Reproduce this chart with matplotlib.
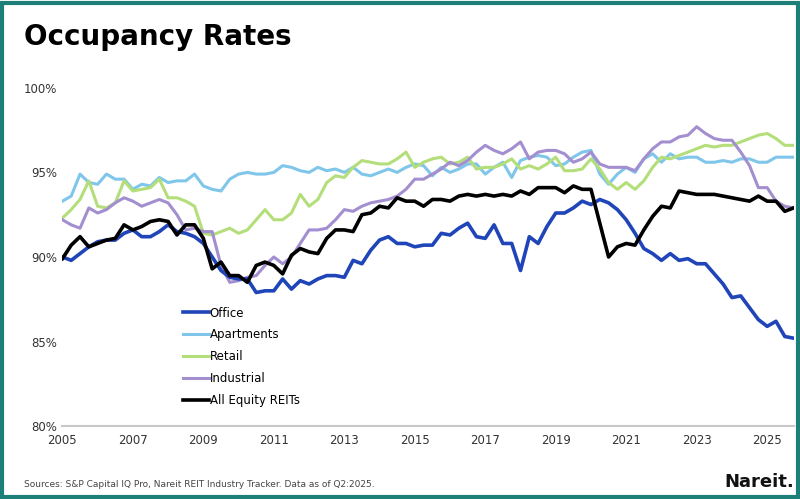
import numpy as np
import matplotlib
matplotlib.use("Agg")
import matplotlib.pyplot as plt
from matplotlib.patches import Rectangle

# quarterly, 2005Q1 onwards
office = [90.0, 89.8, 90.2, 90.6, 90.9, 91.0, 91.0, 91.4, 91.6, 91.2, 91.2, 91.5,
          91.9, 91.5, 91.4, 91.2, 90.8, 90.0, 89.2, 88.8, 88.7, 88.7, 87.9, 88.0,
          88.0, 88.7, 88.1, 88.6, 88.4, 88.7, 88.9, 88.9, 88.8, 89.8, 89.6, 90.4,
          91.0, 91.2, 90.8, 90.8, 90.6, 90.7, 90.7, 91.4, 91.3, 91.7, 92.0, 91.2,
          91.1, 91.9, 90.8, 90.8, 89.2, 91.2, 90.8, 91.8, 92.6, 92.6, 92.9, 93.3,
          93.1, 93.4, 93.2, 92.8, 92.2, 91.4, 90.5, 90.2, 89.8, 90.2, 89.8, 89.9,
          89.6, 89.6, 89.0, 88.4, 87.6, 87.7, 87.0, 86.3, 85.9, 86.2, 85.3, 85.2]
apartments = [93.3, 93.6, 94.9, 94.4, 94.3, 94.9, 94.6, 94.6, 94.0, 94.3, 94.2, 94.7,
              94.4, 94.5, 94.5, 94.9, 94.2, 94.0, 93.9, 94.6, 94.9, 95.0, 94.9, 94.9,
              95.0, 95.4, 95.3, 95.1, 95.0, 95.3, 95.1, 95.2, 95.0, 95.3, 94.9, 94.8,
              95.0, 95.2, 95.0, 95.3, 95.5, 95.4, 94.8, 95.3, 95.0, 95.2, 95.5, 95.5,
              94.9, 95.3, 95.6, 94.7, 95.7, 95.9, 96.0, 95.9, 95.4, 95.5, 95.9, 96.2,
              96.3, 94.9, 94.3, 94.9, 95.3, 95.0, 95.8, 96.1, 95.6, 96.1, 95.8, 95.9,
              95.9, 95.6, 95.6, 95.7, 95.6, 95.8, 95.8, 95.6, 95.6, 95.9, 95.9, 95.9]
retail = [92.3, 92.8, 93.4, 94.5, 93.0, 92.9, 93.2, 94.5, 93.9, 94.0, 94.1, 94.6,
          93.5, 93.5, 93.3, 93.0, 91.4, 91.3, 91.5, 91.7, 91.4, 91.6, 92.2, 92.8,
          92.2, 92.2, 92.6, 93.7, 93.0, 93.4, 94.4, 94.8, 94.7, 95.3, 95.7, 95.6,
          95.5, 95.5, 95.8, 96.2, 95.3, 95.6, 95.8, 95.9, 95.5, 95.6, 95.9, 95.2,
          95.3, 95.3, 95.5, 95.8, 95.2, 95.4, 95.2, 95.5, 95.9, 95.1, 95.1, 95.2,
          95.8, 95.2, 94.4, 94.0, 94.4, 94.0, 94.5, 95.3, 95.9, 95.8, 96.0, 96.2,
          96.4, 96.6, 96.5, 96.6, 96.6, 96.8, 97.0, 97.2, 97.3, 97.0, 96.6, 96.6]
industrial = [92.2, 91.9, 91.7, 92.9, 92.6, 92.8, 93.2, 93.5, 93.3, 93.0, 93.2, 93.4,
              93.2, 92.5, 91.6, 91.7, 91.5, 91.5, 89.5, 88.5, 88.6, 88.8, 88.9, 89.5,
              90.0, 89.6, 90.0, 90.8, 91.6, 91.6, 91.7, 92.2, 92.8, 92.7, 93.0, 93.2,
              93.3, 93.4, 93.6, 94.0, 94.6, 94.6, 94.9, 95.2, 95.6, 95.4, 95.7, 96.2,
              96.6, 96.3, 96.1, 96.4, 96.8, 95.8, 96.2, 96.3, 96.3, 96.1, 95.6, 95.8,
              96.2, 95.5, 95.3, 95.3, 95.3, 95.1, 95.8, 96.4, 96.8, 96.8, 97.1, 97.2,
              97.7, 97.3, 97.0, 96.9, 96.9, 96.2, 95.4, 94.1, 94.1, 93.3, 93.0, 92.9]
all_equity = [89.9, 90.7, 91.2, 90.6, 90.8, 91.0, 91.1, 91.9, 91.6, 91.8, 92.1, 92.2,
              92.1, 91.3, 91.9, 91.9, 91.1, 89.3, 89.7, 88.9, 88.9, 88.5, 89.5, 89.7,
              89.5, 89.0, 90.1, 90.5, 90.3, 90.2, 91.1, 91.6, 91.6, 91.5, 92.5, 92.6,
              93.0, 92.9, 93.5, 93.3, 93.3, 93.0, 93.4, 93.4, 93.3, 93.6, 93.7, 93.6,
              93.7, 93.6, 93.7, 93.6, 93.9, 93.7, 94.1, 94.1, 94.1, 93.8, 94.2, 94.0,
              94.0, 92.0, 90.0, 90.6, 90.8, 90.7, 91.6, 92.4, 93.0, 92.9, 93.9, 93.8,
              93.7, 93.7, 93.7, 93.6, 93.5, 93.4, 93.3, 93.6, 93.3, 93.3, 92.7, 92.9]

series = [("Office", office, "#1f45b8", 2.6),
          ("Apartments", apartments, "#7fc6ea", 2.2),
          ("Retail", retail, "#b3de79", 2.2),
          ("Industrial", industrial, "#a38fd0", 2.2),
          ("All Equity REITs", all_equity, "#000000", 2.6)]

x = 2005 + np.arange(len(office)) * 0.25

fig = plt.figure(figsize=(8, 4.99), dpi=100)
fig.patches.append(Rectangle((0.002, 0.004), 0.995, 0.99, transform=fig.transFigure,
                             fill=False, edgecolor="#1c7f78", linewidth=3))
ax = fig.add_axes([0.078, 0.146, 0.914, 0.678])

# draw back to front so black/office sit on top
for name, vals, color, lw in [series[1], series[2], series[3], series[0], series[4]]:
    ax.plot(x, vals, color=color, lw=lw, label=name)

ax.set_xlim(2005, 2025.75)
ax.set_ylim(80, 100)
ax.set_yticks([80, 85, 90, 95, 100])
ax.set_yticklabels([f"{v}%" for v in [80, 85, 90, 95, 100]])
ax.set_xticks(range(2005, 2026, 2))
for s in ["top", "right", "left"]:
    ax.spines[s].set_visible(False)
ax.spines["bottom"].set_color("#c8c8c8")
ax.spines["bottom"].set_linewidth(1.5)
ax.tick_params(length=0, labelsize=8.5, colors="#333333")
ax.tick_params(axis="x", pad=6)

handles, labels = ax.get_legend_handles_labels()
order = [labels.index(s[0]) for s in series]
ax.legend([handles[i] for i in order], [labels[i] for i in order],
          loc="upper left", bbox_to_anchor=(0.15, 0.385), frameon=False,
          fontsize=8.5, handlelength=2.2, handletextpad=0.1, labelspacing=0.75)

fig.text(0.03, 0.91, "Occupancy Rates", fontsize=20, fontweight="bold")
fig.text(0.03, 0.025, "Sources: S&P Capital IQ Pro, Nareit REIT Industry Tracker. Data as of Q2:2025.",
         fontsize=6.5, color="#444444")
fig.text(0.905, 0.025, "Nareit.", fontsize=13, fontweight="bold", color="#111111")

fig.savefig("out.png", dpi=100)
